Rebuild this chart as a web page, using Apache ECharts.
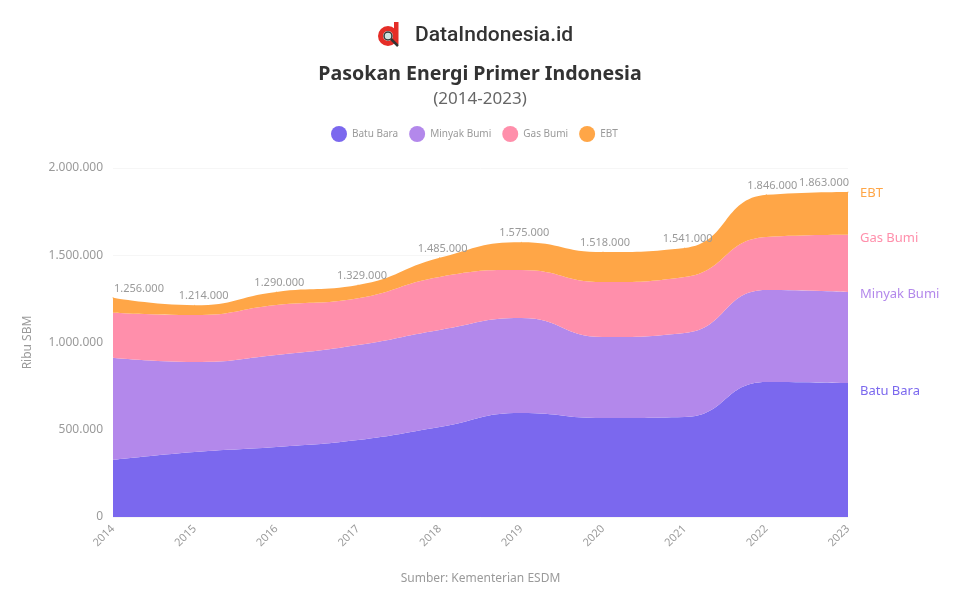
<!DOCTYPE html>
<html>
<head>
<meta charset="utf-8">
<title>Pasokan Energi Primer Indonesia</title>
<script src="https://cdn.jsdelivr.net/npm/echarts@6/dist/echarts.min.js"></script>
<style>
  html, body { margin: 0; padding: 0; background: #fff; }
  #chart { width: 960px; height: 600px; }
</style>
</head>
<body>
<div id="chart"></div>
<script>
// data (ribu SBM)
var years = ['2014','2015','2016','2017','2018','2019','2020','2021','2022','2023'];
var batuBara = [327000,372000,401000,441000,516000,596000,567000,573000,774000,768000];
var minyakBumi = [585000,516000,527000,544000,556000,544000,464000,481000,527000,522000];
var gasBumi = [258000,269000,287000,269000,304000,275000,315000,321000,304000,327000];
var ebt = [86000,57000,75000,75000,109000,160000,172000,166000,241000,246000];
var yTicks = [0,500000,1000000,1500000,2000000];

var colors = ['#7B68EE','#B388EB','#FF8FAB','#FFA647'];
var textGrey = '#9a9a9a';

function fmt(v){
    return String(v).replace(/\B(?=(\d{3})+$)/g,'.');
}

var totals = years.map(function(y,i){
    return batuBara[i]+minyakBumi[i]+gasBumi[i]+ebt[i];
});

function areaSeries(name,values,color,labelShift){
    return {
        name:name,
        type:'line',
        stack:'total',
        smooth:0.5,
        symbol:'none',
        lineStyle:{width:0},
        areaStyle:{color:color,opacity:1},
        itemStyle:{color:color},
        endLabel:{
            show:true,
            formatter:name,
            color:color,
            fontFamily:'Noto Sans',
            fontSize:13,
            distance:12,
            offset:[0,labelShift]
        },
        data:values
    };
}

// total labels sit on the top series, nudged right so neighbours do not touch
var nudge = [1,9,3,4,3,3,2,3,6,1];
var topData = ebt.map(function(v,i){
    var align = i===0 ? 'left' : (i===years.length-1 ? 'right' : 'center');
    return {value:v,label:{align:align}};
});

var seriesTop = areaSeries('EBT',topData,colors[3],1);
seriesTop.symbol = 'circle';
seriesTop.symbolSize = 1;
seriesTop.showSymbol = true;
seriesTop.showAllSymbol = true;
seriesTop.label = {
    show:true,
    position:'top',
    distance:3,
    color:textGrey,
    fontFamily:'Noto Sans',
    fontSize:11,
    formatter:function(p){ return fmt(totals[p.dataIndex]); }
};
seriesTop.labelLayout = function(p){
    return {dx:nudge[p.dataIndex],hideOverlap:false};
};

var myChart = echarts.init(document.getElementById('chart'));

var option = {
    backgroundColor:'#fff',
    animation:false,
    title:[
        {
            text:'DataIndonesia.id',
            left:410,
            top:20,
            textStyle:{fontFamily:'Roboto',fontSize:21,fontWeight:500,color:'#333'}
        },
        {
            text:'Pasokan Energi Primer Indonesia',
            left:'center',
            top:59,
            textStyle:{fontFamily:'Noto Sans',fontSize:19.6,fontWeight:'bold',color:'#333'}
        },
        {
            text:'(2014-2023)',
            left:'center',
            top:86,
            textStyle:{fontFamily:'Noto Sans',fontSize:17,fontWeight:'normal',color:'#666'}
        }
    ],
    graphic:[
        {
            type:'group',
            left:378,
            top:22,
            children:[
                {type:'circle',shape:{cx:11,cy:14,r:7.5},style:{fill:'#fff',stroke:'#e52d27',lineWidth:5}},
                {type:'rect',shape:{x:17,y:0,width:4.5,height:22},style:{fill:'#e52d27'}},
                {type:'circle',shape:{cx:11,cy:14,r:4},style:{fill:'#cfe3e0',stroke:'#333',lineWidth:1.5}},
                {type:'line',shape:{x1:14,y1:17,x2:21,y2:24},style:{stroke:'#333',lineWidth:2.5}}
            ]
        }
    ],
    legend:{
        top:121,
        left:326,
        icon:'circle',
        itemWidth:16,
        itemHeight:16,
        itemGap:11,
        textStyle:{color:textGrey,fontFamily:'Noto Sans',fontSize:10},
        data:['Batu Bara','Minyak Bumi','Gas Bumi','EBT']
    },
    grid:{left:113,right:112,top:168,bottom:83},
    xAxis:{
        type:'category',
        boundaryGap:false,
        data:years,
        name:'Sumber: Kementerian ESDM',
        nameLocation:'middle',
        nameGap:56,
        nameTextStyle:{color:textGrey,fontFamily:'Noto Sans',fontSize:12},
        axisLine:{show:false},
        axisTick:{show:false},
        axisLabel:{rotate:45,margin:10,color:textGrey,fontFamily:'Noto Sans',fontSize:11}
    },
    yAxis:{
        type:'value',
        min:yTicks[0],
        max:yTicks[yTicks.length-1],
        interval:yTicks[1]-yTicks[0],
        name:'Ribu SBM',
        nameLocation:'middle',
        nameGap:79,
        nameTextStyle:{color:textGrey,fontFamily:'Noto Sans',fontSize:12},
        axisLine:{show:false},
        axisTick:{show:false},
        splitLine:{lineStyle:{color:'#f6f6f6'}},
        axisLabel:{
            margin:10,
            color:textGrey,
            fontFamily:'Noto Sans',
            fontSize:12,
            formatter:function(v){ return fmt(v); }
        }
    },
    series:[
        areaSeries('Batu Bara',batuBara,colors[0],8),
        areaSeries('Minyak Bumi',minyakBumi,colors[1],2),
        areaSeries('Gas Bumi',gasBumi,colors[2],3),
        seriesTop
    ]
};

myChart.setOption(option);
</script>
</body>
</html>
